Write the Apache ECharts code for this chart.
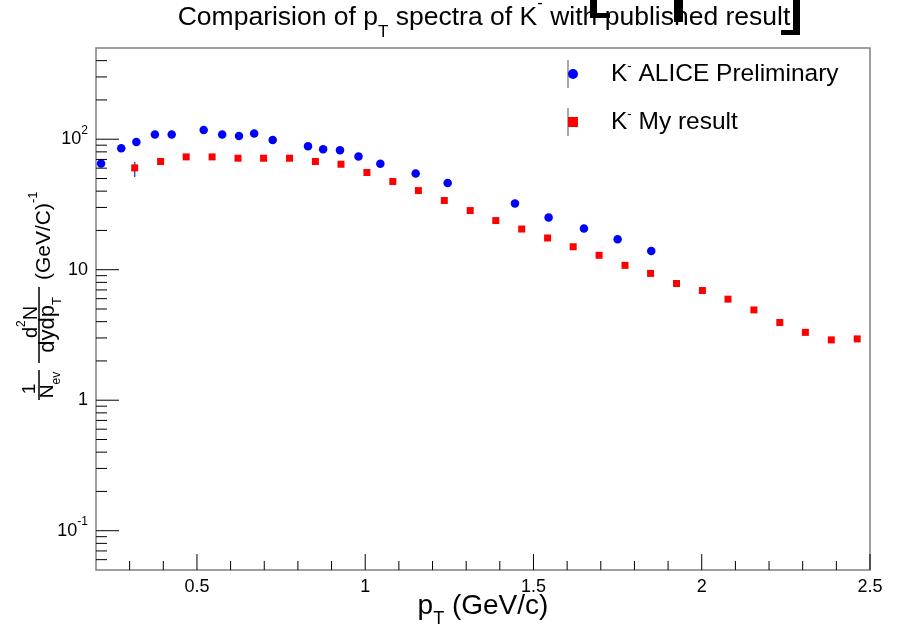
<!DOCTYPE html>
<html><head><meta charset="utf-8">
<script src="https://cdn.jsdelivr.net/npm/echarts@6/dist/echarts.min.js"></script>
<style>html,body{margin:0;padding:0;background:#fff}#c{width:899px;height:630px}</style>
</head><body><div id="c"></div>
<script>
// ---- data ----
const aliceX = [0.215, 0.275, 0.32, 0.375, 0.425, 0.52, 0.575, 0.625, 0.67, 0.725, 0.83, 0.875, 0.925, 0.98, 1.045, 1.15, 1.245, 1.445, 1.545, 1.65, 1.75, 1.85];
const aliceY = [65.1, 85.3, 95.4, 108.6, 108.6, 117.9, 108.6, 106, 110.5, 98.8, 88.5, 83.8, 82.3, 73.7, 64.9, 54.6, 46.2, 32.2, 25.1, 20.7, 17.1, 13.9];
const myX = [0.315, 0.392, 0.468, 0.545, 0.622, 0.698, 0.775, 0.852, 0.928, 1.005, 1.082, 1.158, 1.235, 1.312, 1.388, 1.465, 1.542, 1.618, 1.695, 1.772, 1.848, 1.925, 2.002, 2.078, 2.155, 2.232, 2.308, 2.385, 2.462];
const myY = [60.3, 67.5, 73.2, 73.2, 71.5, 71.5, 71.5, 67.5, 64.3, 55.6, 47.4, 40.4, 33.9, 28.4, 23.8, 20.5, 17.5, 15.0, 12.9, 10.8, 9.37, 7.84, 6.93, 5.95, 4.92, 3.94, 3.31, 2.90, 2.95];
const errX = [0.315];
const errLow = [51.4];
const errHigh = [67];

// ---- axes ----
const X_MIN = 0.2, X_MAX = 2.5, Y_MIN = 0.05, Y_MAX = 500;
const xMajorTicks = [0.5, 1, 1.5, 2, 2.5];
const xMinorTicks = [0.3, 0.4, 0.6, 0.7, 0.8, 0.9, 1.1, 1.2, 1.3, 1.4, 1.6, 1.7, 1.8, 1.9, 2.1, 2.2, 2.3, 2.4];
const yMajorTicks = [0.1, 1, 10, 100];
const yMinorTicks = [0.06, 0.07, 0.08, 0.09, 0.2, 0.3, 0.4, 0.5, 0.6, 0.7, 0.8, 0.9, 2, 3, 4, 5, 6, 7, 8, 9, 20, 30, 40, 50, 60, 70, 80, 90, 200, 300, 400];
const yTickValues = [0.1, 1, 10, 100];
const yTickLabels = ['10{sup|-1}', '1', '10', '10{sup|2}'];

const FONT = 'Liberation Sans, Arial, Helvetica, sans-serif';
const nameAlice = 'K- ALICE Preliminary';
const nameMine = 'K- My result';

const tickData = []
  .concat(xMajorTicks.map(v => [v, Y_MIN, 0]))
  .concat(xMinorTicks.map(v => [v, Y_MIN, 1]))
  .concat(yMajorTicks.map(v => [X_MIN, v, 2]))
  .concat(yMinorTicks.map(v => [X_MIN, v, 3]));

const chart = echarts.init(document.getElementById('c'), null, {renderer: 'canvas'});
chart.setOption({
  animation: false,
  backgroundColor: '#fff',
  grid: {left: 96, right: 29, top: 48, bottom: 60, outerBoundsMode: 'none', containLabel: false,
    show: true, borderColor: '#808080', borderWidth: 1.5, backgroundColor: 'transparent'},
  xAxis: {
    type: 'value', min: X_MIN, max: X_MAX,
    axisLine: {show: false}, axisTick: {show: false}, splitLine: {show: false},
    axisLabel: {show: true, showMinLabel: false, color: '#000', fontSize: 18, fontFamily: FONT, margin: 8},
    name: 'p{sub|T} (GeV/c)', nameLocation: 'middle', nameGap: 14, nameMoveOverlap: false,
    nameTextStyle: {color: '#000', fontSize: 28, fontFamily: FONT, lineHeight: 44,
      rich: {sub: {fontSize: 18, lineHeight: 18, verticalAlign: 'bottom', fontFamily: FONT, color: '#000'}}}
  },
  yAxis: {
    type: 'log', logBase: 10, min: Y_MIN, max: Y_MAX,
    axisLine: {show: false}, axisTick: {show: false}, splitLine: {show: false}, minorTick: {show: false},
    axisLabel: {
      color: '#000', fontSize: 18, fontFamily: FONT, margin: 8, lineHeight: 30,
      formatter: function (v) {
        for (let i = 0; i < yTickValues.length; i++) {
          if (Math.abs(v - yTickValues[i]) / yTickValues[i] < 1e-6) return yTickLabels[i];
        }
        return '';
      },
      rich: {sup: {fontSize: 12, lineHeight: 12, verticalAlign: 'top', fontFamily: FONT, color: '#000'}}
    }
  },
  legend: {
    orient: 'vertical', left: 563, top: 55, itemWidth: 10, itemHeight: 10, itemGap: 20,
    data: [nameAlice, nameMine],
    formatter: function (n) { return n.replace('K-', 'K{sup|-}'); },
    textStyle: {color: '#000', fontSize: 24.5, fontFamily: FONT, lineHeight: 28, padding: [0, 0, 0, 28],
      rich: {sup: {fontSize: 13, lineHeight: 13, verticalAlign: 'top', fontFamily: FONT, color: '#000'}}}
  },
  graphic: [
    {type: 'text', x: 484, y: 18, z: 10,
      style: {text: 'Comparision of p{sub|T} spectra of K{sup|-} with published result', fill: '#000',
        fontSize: 26.5, fontFamily: FONT, lineHeight: 46, align: 'center', verticalAlign: 'middle',
        rich: {sub: {fontSize: 17, lineHeight: 17, verticalAlign: 'bottom', fontFamily: FONT, fill: '#000'},
               sup: {fontSize: 17, lineHeight: 17, verticalAlign: 'top', fontFamily: FONT, fill: '#000'}}}},
    // dark marks cut by the top edge in the reference
    {type: 'rect', z: 9, shape: {x: 590, y: 0, width: 7, height: 18}, style: {fill: '#000'}},
    {type: 'rect', z: 9, shape: {x: 590, y: 13, width: 20, height: 5}, style: {fill: '#000'}},
    {type: 'rect', z: 9, shape: {x: 674, y: 0, width: 9, height: 22}, style: {fill: '#000'}},
    {type: 'rect', z: 9, shape: {x: 793, y: 0, width: 7, height: 35}, style: {fill: '#000'}},
    {type: 'rect', z: 9, shape: {x: 781, y: 30, width: 19, height: 5}, style: {fill: '#000'}},
    {type: 'line', z: 1, shape: {x1: 568, y1: 60, x2: 568, y2: 88}, style: {stroke: '#555', lineWidth: 1}},
    {type: 'line', z: 1, shape: {x1: 568, y1: 108, x2: 568, y2: 136}, style: {stroke: '#555', lineWidth: 1}},
    {type: 'group', x: 39, y: 400, rotation: Math.PI / 2, children: [
      {type: 'text', x: 11, y: -9, style: {text: '1', fontSize: 19, fontFamily: FONT, fill: '#000', align: 'center', verticalAlign: 'middle'}},
      {type: 'line', shape: {x1: 0, y1: 0, x2: 30, y2: 0}, style: {stroke: '#000', lineWidth: 1.5}},
      {type: 'text', x: 15, y: 9, style: {text: 'N{sub|ev}', fontSize: 19, fontFamily: FONT, fill: '#000', align: 'center', verticalAlign: 'middle', lineHeight: 30,
        rich: {sub: {fontSize: 12, lineHeight: 12, verticalAlign: 'bottom', fontFamily: FONT, fill: '#000'}}}},
      {type: 'text', x: 78, y: -8, style: {text: 'd{sup|2}N', fontSize: 20, fontFamily: FONT, fill: '#000', align: 'center', verticalAlign: 'middle', lineHeight: 30,
        rich: {sup: {fontSize: 12, lineHeight: 12, verticalAlign: 'top', fontFamily: FONT, fill: '#000'}}}},
      {type: 'line', shape: {x1: 37, y1: 0, x2: 113, y2: 0}, style: {stroke: '#000', lineWidth: 1.5}},
      {type: 'text', x: 75, y: 9, style: {text: 'dydp{sub|T}', fontSize: 22, fontFamily: FONT, fill: '#000', align: 'center', verticalAlign: 'middle', lineHeight: 32,
        rich: {sub: {fontSize: 13, lineHeight: 13, verticalAlign: 'bottom', fontFamily: FONT, fill: '#000'}}}},
      {type: 'text', x: 120, y: 5, style: {text: '(GeV/C){sup|-1}', fontSize: 21, fontFamily: FONT, fill: '#000', align: 'left', verticalAlign: 'middle', lineHeight: 34,
        rich: {sup: {fontSize: 13, lineHeight: 13, verticalAlign: 'top', fontFamily: FONT, fill: '#000'}}}}
    ]}
  ],
  series: [
    {type: 'custom', name: 'ticks', silent: true, clip: false, z: 5,
      data: tickData,
      renderItem: function (params, api) {
        const kind = api.value(2);
        if (kind < 2) {
          const p = api.coord([api.value(0), Y_MIN]);
          const L = kind === 0 ? 16 : 9;
          return {type: 'line', shape: {x1: p[0], y1: p[1], x2: p[0], y2: p[1] - L}, style: {stroke: '#000', lineWidth: 1}};
        }
        const p = api.coord([X_MIN, api.value(1)]);
        const L = kind === 2 ? 23 : 11;
        return {type: 'line', shape: {x1: p[0], y1: p[1], x2: p[0] + L, y2: p[1]}, style: {stroke: '#000', lineWidth: 1}};
      }},
    {type: 'custom', name: 'err', silent: true, z: 2,
      data: errX.map((x, i) => [x, errLow[i], errHigh[i]]),
      renderItem: function (params, api) {
        const a = api.coord([api.value(0), api.value(1)]);
        const b = api.coord([api.value(0), api.value(2)]);
        return {type: 'line', shape: {x1: a[0], y1: a[1], x2: b[0], y2: b[1]}, style: {stroke: '#4848c8', lineWidth: 1.5}};
      }},
    {type: 'scatter', name: nameAlice, symbol: 'circle', symbolSize: 8.5, z: 3,
      itemStyle: {color: '#0000ff', opacity: 1},
      data: aliceX.map((x, i) => [x, aliceY[i]])},
    {type: 'scatter', name: nameMine, symbol: 'rect', symbolSize: 7, z: 3,
      itemStyle: {color: '#ff0000', opacity: 1},
      data: myX.map((x, i) => [x, myY[i]])}
  ]
});
</script></body></html>
